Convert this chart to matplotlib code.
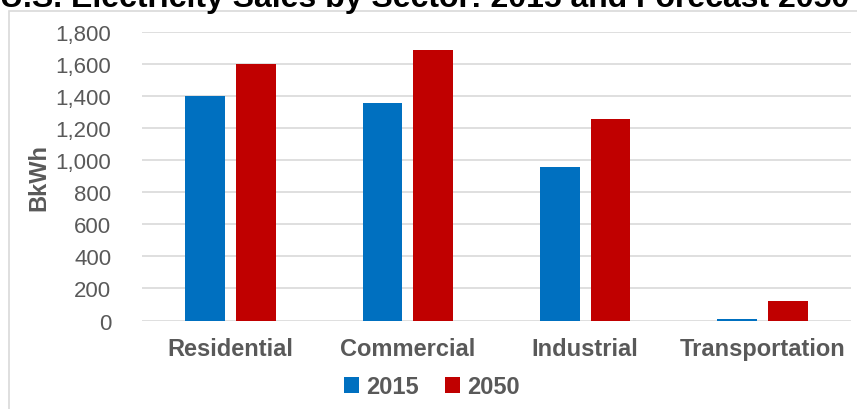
import matplotlib.pyplot as plt
import numpy as np
from matplotlib.patches import Rectangle

plt.rcParams['font.family'] = ['Liberation Sans', 'DejaVu Sans']

sectors = ['Residential', 'Commercial', 'Industrial', 'Transportation']
sales_2015 = [1400, 1360, 960, 7]
sales_2050 = [1600, 1690, 1260, 120]
yticks = [0, 200, 400, 600, 800, 1000, 1200, 1400, 1600, 1800]

blue = '#0070C0'
red = '#C00000'
grey = '#595959'

fig = plt.figure(figsize=(8.57, 4.10), dpi=100)

# chart frame (partly off the canvas like the source screenshot)
fig.patches.append(Rectangle((8.5 / 857, -0.1), 1.2, 1 - 11.5 / 410 + 0.1,
                             transform=fig.transFigure, fill=False,
                             edgecolor='#d9d9d9', linewidth=1.2, zorder=0))

# title is cropped at the top in the source
fig.text(0.0, 1 - 7 / 410, 'U.S. Electricity Sales by Sector: 2015 and Forecast 2050',
         fontsize=23, fontweight='bold', color='black', ha='left', va='baseline')

ax = fig.add_axes([142 / 857, 1 - 321.5 / 410, (851 - 142) / 857, (321.5 - 33) / 410])

x = np.arange(len(sectors))
w = 0.225
ax.bar(x - 0.143, sales_2015, width=w, color=blue, label='2015', zorder=3)
ax.bar(x + 0.143, sales_2050, width=w, color=red, label='2050', zorder=3)

ax.set_xlim(-0.5, 3.5)
ax.set_ylim(0, 1800)
ax.set_yticks(yticks)
ax.set_yticklabels([f'{v:,}' for v in yticks], fontsize=16, color=grey)
ax.set_xticks(x)
ax.set_xticklabels(sectors, fontsize=17, fontweight='bold', color=grey)
ax.tick_params(axis='both', length=0)
ax.tick_params(axis='y', pad=22)
ax.tick_params(axis='x', pad=12)
ax.yaxis.grid(True, color='#d9d9d9', linewidth=1.2, zorder=0)
ax.set_axisbelow(True)
for s in ax.spines.values():
    s.set_visible(False)

ax.set_ylabel('BkWh', fontsize=17, fontweight='bold', color=grey, labelpad=4)

leg = fig.legend(loc='center', bbox_to_anchor=(432 / 857, 1 - 388 / 410), ncol=2,
                 frameon=False, handlelength=0.65, handleheight=0.65,
                 handletextpad=0.3, columnspacing=1.1,
                 prop={'size': 17, 'weight': 'bold'})
for t in leg.get_texts():
    t.set_color(grey)

fig.savefig('out.png', dpi=100)
